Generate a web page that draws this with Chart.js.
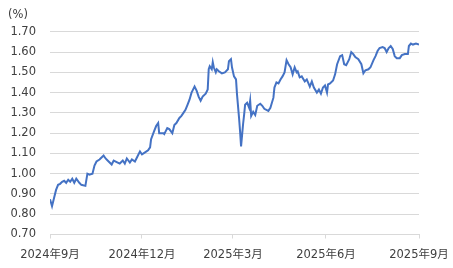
<!DOCTYPE html>
<html>
<head>
<meta charset="utf-8">
<script src="https://cdn.jsdelivr.net/npm/chart.js@4"></script>
<style>
  body { margin: 0; background: #fff; }
</style>
</head>
<body>
<canvas id="yieldChart" width="453" height="268"></canvas>
<script>
// days counted from 2024-09-01
const days = [0, 2, 4, 6, 8, 10, 12, 14, 16, 18, 20, 22, 24, 26, 29, 31, 35, 37, 39, 42,
  44, 46, 49, 51, 53, 55, 57, 61, 63, 67, 69, 72, 74, 76, 79, 81, 84, 86, 89, 91,
  94, 97, 99, 100, 103, 105, 107, 108, 112, 113, 116, 118, 121, 123, 125, 128, 130, 132, 134, 136,
  138, 140, 141, 143, 145, 147, 149, 151, 154, 156, 157, 158, 160, 161, 162, 164, 165, 167, 170, 173,
  176, 177, 179, 180, 182, 184, 185, 187, 188, 189, 191, 192, 193, 195, 197, 198, 199, 201, 203, 205,
  208, 210, 212, 216, 218, 221, 222, 224, 226, 228, 230, 232, 234, 236, 238, 240, 242, 244, 245, 247,
  249, 252, 254, 257, 259, 261, 264, 266, 268, 270, 272, 274, 275, 277, 280, 282, 284, 287, 289, 291,
  293, 296, 298, 300, 302, 305, 308, 310, 312, 315, 317, 320, 322, 324, 326, 329, 331, 333, 335, 337,
  339, 341, 343, 346, 348, 351, 354, 355, 357, 359, 362, 365];

const yields = [0.874, 0.84, 0.88, 0.92, 0.945, 0.95, 0.96, 0.965, 0.955, 0.97, 0.96, 0.975, 0.955, 0.975, 0.955, 0.945, 0.94, 1.00, 0.995, 1.00,
  1.04, 1.06, 1.07, 1.08, 1.09, 1.075, 1.065, 1.045, 1.065, 1.055, 1.05, 1.065, 1.05, 1.075, 1.055, 1.07, 1.06, 1.08, 1.11, 1.095,
  1.105, 1.115, 1.13, 1.17, 1.21, 1.235, 1.25, 1.20, 1.20, 1.195, 1.225, 1.22, 1.20, 1.24, 1.25, 1.275, 1.285, 1.30, 1.315, 1.34,
  1.365, 1.40, 1.41, 1.43, 1.41, 1.38, 1.36, 1.38, 1.395, 1.415, 1.515, 1.53, 1.515, 1.55, 1.525, 1.50, 1.515, 1.505, 1.495, 1.50,
  1.515, 1.555, 1.565, 1.525, 1.48, 1.465, 1.39, 1.275, 1.21, 1.135, 1.245, 1.29, 1.34, 1.35, 1.325, 1.36, 1.285, 1.305, 1.29, 1.335,
  1.345, 1.335, 1.32, 1.31, 1.325, 1.375, 1.425, 1.45, 1.445, 1.465, 1.48, 1.50, 1.56, 1.54, 1.525, 1.49, 1.525, 1.50, 1.505, 1.475,
  1.48, 1.455, 1.465, 1.43, 1.455, 1.425, 1.40, 1.415, 1.395, 1.425, 1.435, 1.40, 1.44, 1.445, 1.46, 1.49, 1.54, 1.58, 1.585, 1.54,
  1.535, 1.565, 1.60, 1.59, 1.575, 1.565, 1.54, 1.495, 1.51, 1.515, 1.525, 1.56, 1.58, 1.605, 1.62, 1.625, 1.62, 1.60, 1.62, 1.63,
  1.615, 1.58, 1.57, 1.57, 1.585, 1.59, 1.59, 1.63, 1.642, 1.637, 1.642, 1.637];

const tickDays = [0, 91, 181, 273, 365];
const tickLabels = ['2024年9月', '2024年12月', '2025年3月', '2025年6月', '2025年9月'];

const FONT = "'DejaVu Sans', 'Noto Sans CJK JP', sans-serif";
const TEXT = '#404040';
const GRID = '#d9d9d9';

const ctx = document.getElementById('yieldChart').getContext('2d');
new Chart(ctx, {
  type: 'line',
  data: {
    datasets: [{
      data: days.map((d, i) => ({ x: d, y: yields[i] })),
      borderColor: '#4472c4',
      borderWidth: 2,
      pointRadius: 0,
      tension: 0
    }]
  },
  options: {
    responsive: false,
    animation: false,
    layout: { padding: { left: 8, right: 34, top: 2, bottom: -4 } },
    plugins: {
      legend: { display: false },
      tooltip: { enabled: false },
      title: {
        display: true,
        text: '(%)',
        align: 'start',
        color: TEXT,
        font: { family: FONT, size: 11.5, weight: 'normal' },
        padding: { top: 6, bottom: 10 }
      }
    },
    scales: {
      x: {
        type: 'linear',
        min: 0,
        max: 365,
        afterBuildTicks: (axis) => { axis.ticks = tickDays.map(v => ({ value: v })); },
        afterFit: (axis) => { axis.paddingRight = 0; },
        ticks: {
          color: TEXT,
          font: { family: FONT, size: 11.5, lineHeight: 1 },
          maxRotation: 0,
          autoSkip: false,
          padding: 11,
          callback: (v) => tickLabels[tickDays.indexOf(v)]
        },
        grid: { drawOnChartArea: false, color: GRID, tickLength: 4 },
        border: { color: GRID }
      },
      y: {
        min: 0.7,
        max: 1.7,
        afterFit: (axis) => { axis.width = 42; },
        ticks: {
          stepSize: 0.1,
          color: TEXT,
          font: { family: FONT, size: 11.5 },
          padding: 14,
          callback: (v) => v.toFixed(2)
        },
        grid: { color: GRID, drawTicks: false },
        border: { display: false }
      }
    }
  }
});
</script>
</body>
</html>
